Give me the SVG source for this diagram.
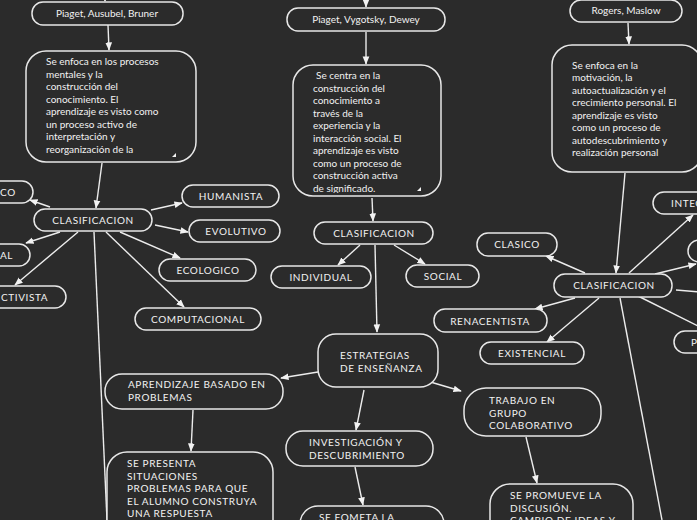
<svg xmlns="http://www.w3.org/2000/svg" width="697" height="520" viewBox="0 0 697 520">
<defs>
<marker id="ah" viewBox="0 0 10 10" refX="9" refY="5" markerWidth="6" markerHeight="6" orient="auto"><path d="M0,1 L10,5 L0,9 z" fill="#f2f2f2"/></marker>
<clipPath id="c1"><rect x="26" y="51" width="170" height="108"/></clipPath>
<clipPath id="c2"><rect x="293" y="65" width="148" height="128"/></clipPath>
</defs>
<style>
rect.n{fill:#2b2b2b;stroke:#e8e8e8;stroke-width:1.5}
text{fill:#f2f2f2;font-family:Lato,"Open Sans",sans-serif;font-size:10px}
.u{letter-spacing:0.6px}
.m{text-anchor:middle}
#edges line{stroke:#ececec;stroke-width:1.4}
.a{marker-end:url(#ah)}
.corner{fill:#f2f2f2}
</style>
<rect width="697" height="520" fill="#2b2b2b"/>
<g id="edges">
<line class="a" x1="105" y1="-2" x2="105" y2="1"/>
<line class="a" x1="108" y1="25" x2="109" y2="50"/>
<line class="a" x1="102" y1="163" x2="96" y2="208"/>
<line class="a" x1="50" y1="207" x2="30" y2="200"/>
<line class="a" x1="151" y1="210" x2="182" y2="203"/>
<line class="a" x1="155" y1="225" x2="188" y2="232"/>
<line class="a" x1="60" y1="232" x2="26" y2="243"/>
<line class="a" x1="78" y1="232" x2="15" y2="285"/>
<line class="a" x1="120" y1="232" x2="180" y2="258"/>
<line class="a" x1="106" y1="232" x2="184" y2="307"/>
<line x1="94" y1="232" x2="107" y2="520"/>
<line class="a" x1="366" y1="-2" x2="366" y2="7"/>
<line class="a" x1="366" y1="32" x2="366" y2="64"/>
<line class="a" x1="372" y1="198" x2="373" y2="221"/>
<line class="a" x1="360" y1="245" x2="338" y2="265"/>
<line class="a" x1="394" y1="245" x2="425" y2="264"/>
<line class="a" x1="375" y1="245" x2="377" y2="332"/>
<line class="a" x1="318" y1="372" x2="281" y2="378"/>
<line class="a" x1="193" y1="410" x2="191" y2="451"/>
<line class="a" x1="364" y1="390" x2="356" y2="430"/>
<line class="a" x1="355" y1="467" x2="363" y2="505"/>
<line class="a" x1="427" y1="381" x2="461" y2="391"/>
<line class="a" x1="526" y1="437" x2="537" y2="483"/>
<line class="a" x1="628" y1="23" x2="629" y2="44"/>
<line class="a" x1="625" y1="173" x2="616" y2="273"/>
<line class="a" x1="585" y1="273" x2="546" y2="256"/>
<line class="a" x1="575" y1="298" x2="535" y2="309"/>
<line class="a" x1="599" y1="298" x2="547" y2="342"/>
<line class="a" x1="629" y1="273" x2="693" y2="215"/>
<line class="a" x1="655" y1="274" x2="696" y2="264"/>
<line x1="676" y1="290" x2="700" y2="292"/>
<line x1="638" y1="296" x2="700" y2="327"/>
<line x1="620" y1="298" x2="662" y2="520"/>
</g>
<g id="n1"><rect class="n" x="32" y="2" width="151" height="23" rx="11"/><text class="m" x="107" y="17">Piaget, Ausubel, Bruner</text></g>
<g id="n2"><rect class="n" x="26" y="51" width="170" height="111" rx="20"/>
<g clip-path="url(#c1)"><text x="46" y="65">Se enfoca en los procesos</text><text x="46" y="78">mentales y la</text><text x="46" y="90">construcción del</text><text x="46" y="103">conocimiento. El</text><text x="46" y="115">aprendizaje es visto como</text><text x="46" y="128">un proceso activo de</text><text x="46" y="140">interpretación y</text><text x="46" y="153">reorganización de la</text></g>
<path class="corner" d="M176,153 L176,157 L172,157 z"/></g>
<g id="n3"><rect class="n" x="34" y="209" width="118" height="22" rx="11"/><text class="m u" x="93" y="224">CLASIFICACION</text></g>
<g id="n4"><rect class="n" x="-20" y="181" width="53" height="22" rx="11"/><text class="u" x="0" y="196">CO</text></g>
<g id="n5"><rect class="n" x="182" y="185" width="97" height="22" rx="11"/><text class="m u" x="231" y="200">HUMANISTA</text></g>
<g id="n6"><rect class="n" x="189" y="220" width="91" height="22" rx="11"/><text class="m u" x="236" y="235">EVOLUTIVO</text></g>
<g id="n7"><rect class="n" x="-20" y="244" width="50" height="22" rx="11"/><text class="u" x="0" y="259">AL</text></g>
<g id="n8"><rect class="n" x="-30" y="286" width="96" height="22" rx="11"/><text class="u" x="1" y="301">CTIVISTA</text></g>
<g id="n9"><rect class="n" x="159" y="259" width="97" height="22" rx="11"/><text class="m u" x="208" y="274">ECOLOGICO</text></g>
<g id="n10"><rect class="n" x="135" y="308" width="126" height="22" rx="11"/><text class="m u" x="198" y="323">COMPUTACIONAL</text></g>
<g id="n11"><rect class="n" x="287" y="8" width="158" height="23" rx="11"/><text class="m" x="366" y="23">Piaget, Vygotsky, Dewey</text></g>
<g id="n12"><rect class="n" x="293" y="65" width="148" height="131" rx="20"/>
<g clip-path="url(#c2)"><text x="316" y="79">Se centra en la</text><text x="313" y="92">construcción del</text><text x="313" y="104">conocimiento a</text><text x="313" y="117">través de la</text><text x="313" y="129">experiencia y la</text><text x="313" y="142">interacción social. El</text><text x="313" y="154">aprendizaje es visto</text><text x="313" y="167">como un proceso de</text><text x="313" y="179">construcción activa</text><text x="313" y="192">de significado.</text></g>
<path class="corner" d="M421,187 L421,191 L417,191 z"/></g>
<g id="n13"><rect class="n" x="314" y="222" width="119" height="22" rx="11"/><text class="m u" x="374" y="237">CLASIFICACION</text></g>
<g id="n14"><rect class="n" x="271" y="266" width="100" height="22" rx="11"/><text class="m u" x="321" y="281">INDIVIDUAL</text></g>
<g id="n15"><rect class="n" x="406" y="265" width="73" height="22" rx="11"/><text class="m u" x="443" y="280">SOCIAL</text></g>
<g id="n16"><rect class="n" x="318" y="334" width="120" height="53" rx="18"/><text class="u" x="340" y="359">ESTRATEGIAS</text><text class="u" x="340" y="372">DE ENSEÑANZA</text></g>
<g id="n17"><rect class="n" x="105" y="374" width="178" height="35" rx="17"/><text class="u" x="128" y="388">APRENDIZAJE BASADO EN</text><text class="u" x="128" y="401">PROBLEMAS</text></g>
<g id="n18"><rect class="n" x="107" y="452" width="166" height="90" rx="20"/><text class="u" x="127" y="467">SE PRESENTA</text><text class="u" x="127" y="480">SITUACIONES</text><text class="u" x="127" y="492">PROBLEMAS PARA QUE</text><text class="u" x="127" y="505">EL ALUMNO CONSTRUYA</text><text class="u" x="127" y="517">UNA RESPUESTA</text></g>
<g id="n19"><rect class="n" x="286" y="431" width="147" height="35" rx="17"/><text class="u" x="309" y="446">INVESTIGACIÓN Y</text><text class="u" x="309" y="459">DESCUBRIMIENTO</text></g>
<g id="n20"><rect class="n" x="300" y="506" width="144" height="40" rx="18"/><text class="u" x="319" y="521">SE FOMETA LA</text></g>
<g id="n21"><rect class="n" x="464" y="388" width="137" height="48" rx="22"/><text class="u" x="489" y="404">TRABAJO EN</text><text class="u" x="489" y="417">GRUPO</text><text class="u" x="489" y="429">COLABORATIVO</text></g>
<g id="n22"><rect class="n" x="490" y="484" width="143" height="60" rx="20"/><text class="u" x="510" y="499">SE PROMUEVE LA</text><text class="u" x="510" y="512">DISCUSIÓN.</text><text class="u" x="510" y="524">CAMBIO DE IDEAS Y</text></g>
<g id="n23"><rect class="n" x="570" y="0" width="112" height="22" rx="11"/><text class="m" x="626" y="14">Rogers, Maslow</text></g>
<g id="n24"><rect class="n" x="552" y="45" width="150" height="127" rx="20"/><text x="572" y="69">Se enfoca en la</text><text x="572" y="81">motivación, la</text><text x="572" y="94">autoactualización y el</text><text x="572" y="106">crecimiento personal. El</text><text x="572" y="119">aprendizaje es visto</text><text x="572" y="131">como un proceso de</text><text x="572" y="144">autodescubrimiento y</text><text x="572" y="156">realización personal</text></g>
<g id="n25"><rect class="n" x="554" y="274" width="118" height="23" rx="11"/><text class="m u" x="614" y="289">CLASIFICACION</text></g>
<g id="n26"><rect class="n" x="477" y="233" width="80" height="23" rx="11"/><text class="m u" x="517" y="248">CLASICO</text></g>
<g id="n27"><rect class="n" x="434" y="309" width="113" height="23" rx="11"/><text class="m u" x="490" y="325">RENACENTISTA</text></g>
<g id="n28"><rect class="n" x="480" y="342" width="104" height="22" rx="11"/><text class="m u" x="532" y="357">EXISTENCIAL</text></g>
<g id="n29"><rect class="n" x="653" y="192" width="70" height="22" rx="11"/><text class="u" x="671" y="207">INTEGRAL</text></g>
<g id="n30"><rect class="n" x="688" y="240" width="40" height="22" rx="11"/></g>
<g id="n31"><rect class="n" x="674" y="331" width="50" height="22" rx="11"/><text class="u" x="691" y="346">P</text></g>
</svg>
